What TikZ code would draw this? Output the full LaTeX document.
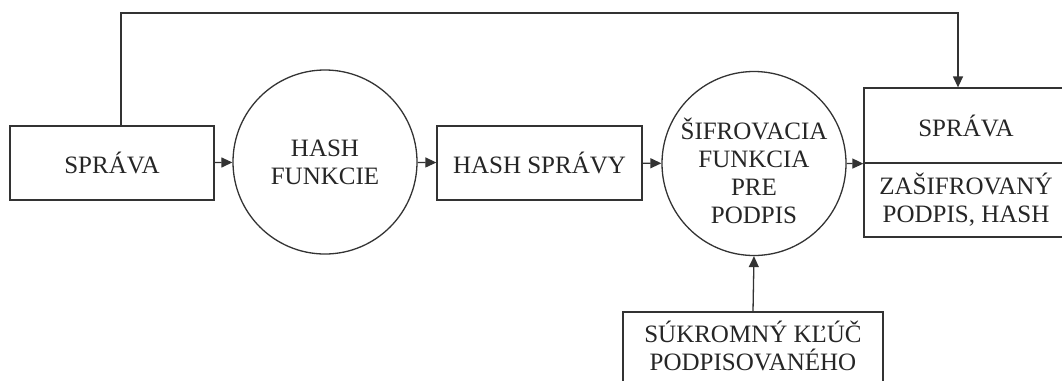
\documentclass[tikz,border=0pt]{standalone}
\usepackage{fontspec}
\setmainfont{Liberation Serif}
\usetikzlibrary{arrows.meta,calc}
\begin{document}
\begin{tikzpicture}[x=1bp,y=-1bp,
  txtfont/.style={font=\fontsize{25bp}{28bp}\selectfont, text=black!85},
  box/.style={draw=black!80, line width=1.3bp, rectangle, inner sep=0pt, align=center, txtfont},
  circ/.style={draw=black!80, line width=1.3bp, circle, minimum size=184bp, inner sep=0pt, align=center, txtfont},
  lbl/.style={align=center, inner sep=0pt, txtfont},
  arr/.style={draw=black!80, line width=1.3bp, -{Triangle[length=11bp,width=10bp]}}]
\path[use as bounding box, clip] (0,0) rectangle (1062,380);
\fill[white] (0,0) rectangle (1062,380);
\node[box, minimum width=204bp, minimum height=74bp] (sprava) at (112,163) {SPRÁVA};
\node[circ] (hash) at (325,162) {HASH\\FUNKCIE};
\node[box, minimum width=205bp, minimum height=74bp] (hs) at (539.5,163) {HASH SPRÁVY};
\node[circ, label={[lbl, yshift=-7bp]center:{ŠIFROVACIA\\FUNKCIA\\PRE\\PODPIS}}] (sif) at (754,163.5) {};
\node[box, minimum width=204bp, minimum height=75bp] (rtop) at (966,125.5) {SPRÁVA};
\node[box, minimum width=204bp, minimum height=74bp] (rbot) at (966,200) {ZAŠIFROVANÝ\\PODPIS, HASH};
\node[box, minimum width=260bp, minimum height=83bp,
  label={[lbl, anchor=north, yshift=-9bp]north:{SÚKROMNÝ KĽÚČ\\PODPISOVANÉHO}}] (key) at (753,353.5) {};
\coordinate (c1) at (121,13);
\coordinate (c2) at (958,13);
\draw[arr] (sprava) -- (hash);
\draw[arr] (hash) -- (hs);
\draw[arr] (hs) -- (sif);
\draw[arr] (sif.east) -- (rtop.south west);
\draw[arr] (key.north) -- (sif.south);
\draw[arr] (sprava.north -| c1) |- (c2) -- (c2 |- rtop.north);
\end{tikzpicture}
\end{document}
